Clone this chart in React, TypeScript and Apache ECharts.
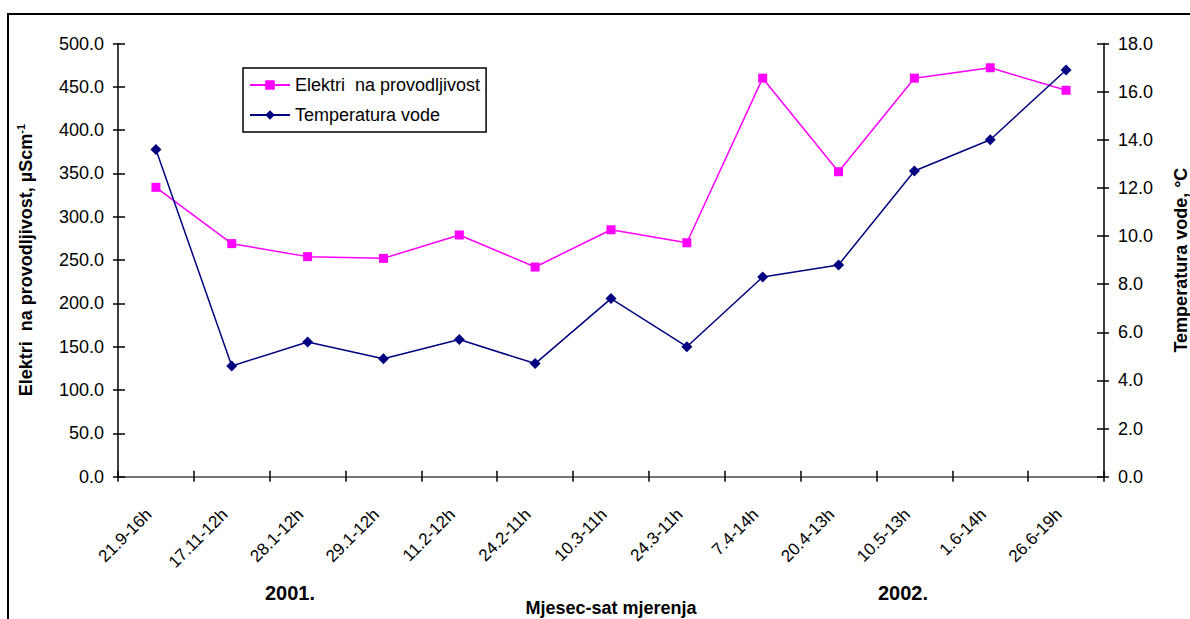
import React, { useEffect, useRef } from "react";
import * as echarts from "echarts";

const categories = [
  "21.9-16h", "17.11-12h", "28.1-12h", "29.1-12h", "11.2-12h", "24.2-11h",
  "10.3-11h", "24.3-11h", "7.4-14h", "20.4-13h", "10.5-13h", "1.6-14h", "26.6-19h",
];
const conductivity = [334, 269, 254, 252, 279, 242, 285, 270, 460, 352, 460, 472, 446];
const temperature = [13.6, 4.6, 5.6, 4.9, 5.7, 4.7, 7.4, 5.4, 8.3, 8.8, 12.7, 14.0, 16.9];
const seriesNames = ["Elektri  na provodljivost", "Temperatura vode"];
const yearLabels = ["2001.", "2002."];

const FONT = "'Liberation Sans', Arial, sans-serif";

export default function App() {
  const ref = useRef<HTMLDivElement>(null);
  useEffect(() => {
    if (!ref.current) return;
    const chart = echarts.init(ref.current, null, { renderer: "svg" });
    const axisLine = { show: true, lineStyle: { color: "#000", width: 1.5 } };
    const tickStyle = { color: "#000", width: 1.5 };
    const fmt = (v: number) => v.toFixed(1);
    chart.setOption({
      animation: false,
      backgroundColor: "#fff",
      textStyle: { fontFamily: FONT },
      grid: {
        left: 118,
        right: 86,
        top: 43.5,
        bottom: 142.3,
        containLabel: false,
        outerBoundsMode: "none",
      },
      legend: {
        orient: "vertical",
        left: 243,
        top: 68,
        itemWidth: 40,
        itemHeight: 12,
        itemGap: 12,
        padding: [8, 6, 8, 6],
        borderColor: "#000",
        borderWidth: 1.5,
        textStyle: { fontFamily: FONT, fontSize: 18, color: "#000" },
        data: seriesNames,
      },
      xAxis: [
        {
          type: "category",
          data: categories,
          boundaryGap: true,
          axisLine,
          axisTick: { show: true, length: 5, lineStyle: tickStyle },
          axisLabel: {
            interval: 0,
            rotate: 45,
            fontFamily: FONT,
            fontSize: 17,
            color: "#000",
            margin: 28,
            padding: [0, 10, 14, 0],
          },
          name: "Mjesec-sat mjerenja",
          nameLocation: "middle",
          nameGap: 122,
          nameTextStyle: { fontFamily: FONT, fontSize: 18, fontWeight: "bold", color: "#000" },
        },
        {
          type: "category",
          data: categories,
          position: "top",
          axisLine: { show: true, lineStyle: { color: "#888", width: 1.5 } },
          axisTick: { show: false },
          axisLabel: { show: false },
        },
        {
          type: "category",
          data: categories,
          position: "bottom",
          offset: 0,
          axisLine: { show: false },
          axisTick: { show: true, inside: true, length: 6, lineStyle: tickStyle },
          axisLabel: { show: false },
        },
      ],
      yAxis: [
        {
          type: "value",
          min: 0,
          max: 500,
          interval: 50,
          position: "left",
          axisLine,
          splitLine: { show: false },
          axisTick: { show: true, length: 5, lineStyle: tickStyle },
          axisLabel: { fontFamily: FONT, fontSize: 18, color: "#000", margin: 14, formatter: fmt },
          name: "Elektri  na provodljivost, µScm{sup|-1}",
          nameLocation: "middle",
          nameGap: 82,
          nameRotate: 90,
          nameTextStyle: {
            fontFamily: FONT,
            fontSize: 18,
            fontWeight: "bold",
            color: "#000",
            rich: {
              sup: { fontFamily: FONT, fontSize: 11, fontWeight: "bold", color: "#000", padding: [0, 0, 10, 0] },
            },
          },
        },
        {
          type: "value",
          min: 0,
          max: 18,
          interval: 2,
          position: "right",
          axisLine,
          splitLine: { show: false },
          axisTick: { show: true, length: 5, lineStyle: tickStyle },
          axisLabel: { fontFamily: FONT, fontSize: 18, color: "#000", margin: 14, formatter: fmt },
          name: "Temperatura vode, °C",
          nameLocation: "middle",
          nameGap: 68,
          nameRotate: 90,
          nameTextStyle: { fontFamily: FONT, fontSize: 18, fontWeight: "bold", color: "#000" },
        },
        {
          type: "value",
          min: 0,
          max: 500,
          interval: 50,
          position: "left",
          offset: 0,
          axisLine: { show: false },
          splitLine: { show: false },
          axisTick: { show: true, inside: true, length: 7, lineStyle: tickStyle },
          axisLabel: { show: false },
        },
        {
          type: "value",
          min: 0,
          max: 18,
          interval: 2,
          position: "right",
          offset: 0,
          axisLine: { show: false },
          splitLine: { show: false },
          axisTick: { show: true, inside: true, length: 7, lineStyle: tickStyle },
          axisLabel: { show: false },
        },
      ],
      series: [
        {
          name: seriesNames[0],
          type: "line",
          data: conductivity,
          yAxisIndex: 0,
          symbol: "rect",
          symbolSize: 9,
          lineStyle: { color: "#FF00FF", width: 1.5 },
          itemStyle: { color: "#FF00FF" },
        },
        {
          name: seriesNames[1],
          type: "line",
          data: temperature,
          yAxisIndex: 1,
          symbol: "diamond",
          symbolSize: 11,
          lineStyle: { color: "#000080", width: 1.5 },
          itemStyle: { color: "#000080" },
        },
      ],
      graphic: [
        {
          type: "rect",
          shape: { x: 8, y: 14, width: 1200, height: 700 },
          style: { fill: "none", stroke: "#000", lineWidth: 2 },
          silent: true,
        },
        {
          type: "text",
          x: 290,
          y: 593,
          style: { text: yearLabels[0], font: `bold 20px ${FONT}`, fill: "#000", align: "center", verticalAlign: "middle" },
        },
        {
          type: "text",
          x: 903,
          y: 593,
          style: { text: yearLabels[1], font: `bold 20px ${FONT}`, fill: "#000", align: "center", verticalAlign: "middle" },
        },
      ],
    });
    return () => chart.dispose();
  }, []);
  return <div ref={ref} style={{ position: "fixed", left: 0, top: 0, width: 1190, height: 619 }} />;
}
